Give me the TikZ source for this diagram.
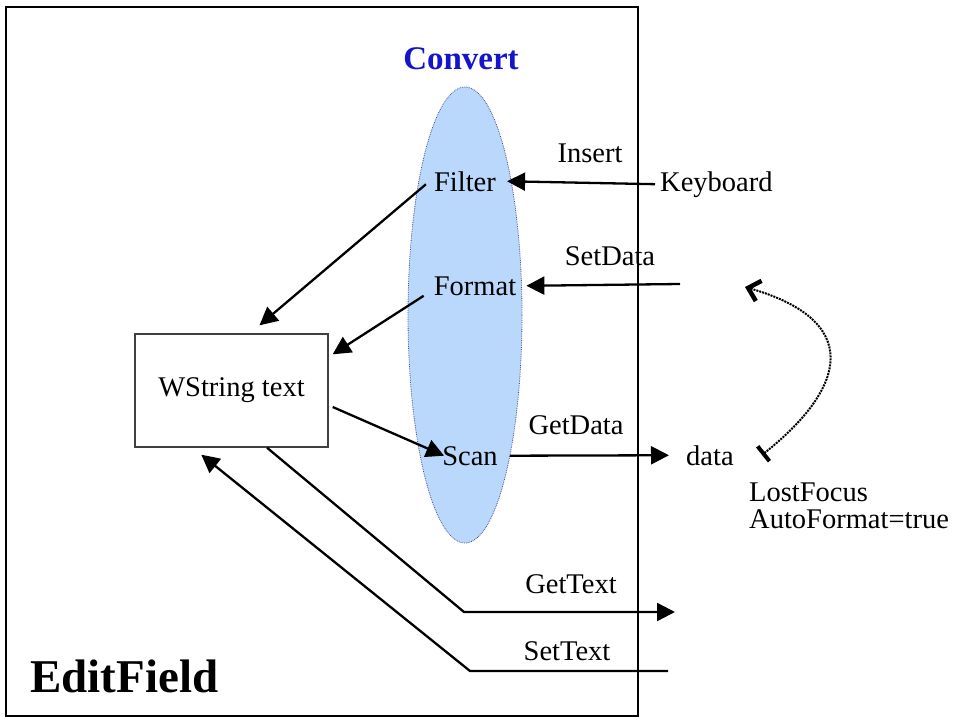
\documentclass[tikz,border=0pt]{standalone}
\usepackage{fontspec}
\setmainfont{Liberation Serif}
\usetikzlibrary{shapes.geometric}
\usetikzlibrary{arrows.meta}
\usetikzlibrary{positioning}
\definecolor{convfill}{RGB}{186,216,252}
\definecolor{convline}{RGB}{70,80,150}
\definecolor{convtext}{RGB}{20,20,205}
\tikzstyle{txt} = [inner sep=0pt, font=\fontsize{28.5}{27}\selectfont]
\tikzstyle{flow} = [line width=2.3pt, -{Triangle[length=18pt,width=18pt]}]
\tikzstyle{convert} = [ellipse, fill=convfill, draw=convline, densely dotted, line width=0.8pt, minimum width=114pt, minimum height=456pt]

\begin{document}
\begin{tikzpicture}[x=1pt, y=-1pt]
\useasboundingbox (0,0) rectangle (956,717);

% Define nodes
\node[draw, line width=2.2pt, minimum width=632pt, minimum height=709pt, inner sep=0pt] (edit) at (322,361.5) {};
\node[convert]                                   (conv)   at (465,315) {};
\node[txt, anchor=base, font=\fontsize{33}{33}\selectfont\bfseries, text=convtext] (title) at (461,70) {Convert};
\node[txt, anchor=base]                          (filter) at (465,191) {Filter};
\node[txt, anchor=base]                          (format) at (475,295) {Format};
\node[txt, anchor=base]                          (scan)   at (470,465) {Scan};
\node[draw=black!75, line width=1.4pt, minimum width=193pt, minimum height=113pt, txt] (wstring) at (231.5,390.5) {WString text};

\node[txt, anchor=base west]                     (kbd)    at (660,191) {Keyboard};
\node[txt, anchor=base west]                     (data)   at (686,465) {data};
\node[txt, anchor=base west]                     (lost)   at (749,501) {LostFocus};
\node[txt, anchor=base west]                     (auto)   at (749,528) {AutoFormat=true};
\node[txt, anchor=base west, font=\fontsize{47}{47}\selectfont\bfseries] (name) at (30,692) {EditField};

\node[txt, anchor=base]                          (insert)  at (590,162) {Insert};
\node[txt, anchor=base]                          (setdata) at (610,265) {SetData};
\node[txt, anchor=base]                          (getdata) at (576,434) {GetData};
\node[txt, anchor=base]                          (gettext) at (571,593) {GetText};
\node[txt, anchor=base]                          (settext) at (567,660) {SetText};

\coordinate (sdin)   at (680,284);
\coordinate (gtbend) at (464,612);
\coordinate (gtout)  at (675,612);
\coordinate (stin)   at (668,671);
\coordinate (stbend) at (470,671);
\coordinate (lfstart) at (762,455);
\coordinate (lfend)   at (745,287);

% Edges
\draw[flow] ([xshift=-5pt]kbd.west) -- ([xshift=11pt]filter.east);
\draw[flow] (sdin) -- ([xshift=10pt]format.east);
\draw[flow] ([xshift=12pt]scan.east) -- ([xshift=-17pt]data.west);
\draw[flow] ([xshift=-8pt,yshift=-3pt]filter.west) -- ([xshift=28pt,yshift=8pt]wstring.north);
\draw[flow] ([xshift=-10pt,yshift=-10pt]format.west) -- ([xshift=4pt,yshift=-21pt]wstring.north east);
\draw[flow] ([xshift=4pt,yshift=-16.5pt]wstring.east) -- ([xshift=2pt]scan.west);
\draw[flow] ([xshift=35.5pt]wstring.south) -- (gtbend) -- (gtout);
\draw[flow] (stin) -- (stbend) -- ([xshift=67pt,yshift=-7pt]wstring.south west);
\draw[densely dotted, line width=2pt, {Bar[width=19pt,line width=4pt]}-{Straight Barb[length=11pt,width=21pt,line width=4.5pt]}]
  (lfstart) .. controls (850,385) and (860,320) .. (lfend);

\end{tikzpicture}
\end{document}
